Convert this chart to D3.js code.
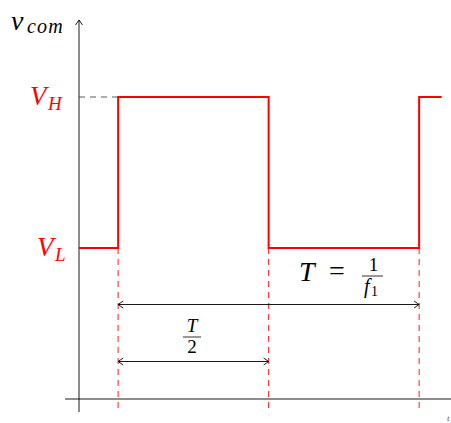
<!DOCTYPE html>
<html>
<head>
<meta charset="utf-8">
<script src="https://cdn.jsdelivr.net/npm/d3@7"></script>
<style>
  body { margin: 0; background: #fff; }
  text { font-family: "Liberation Serif", serif; }
</style>
</head>
<body>
<div id="wrap"></div>
<script>
// Square-wave common-mode voltage: levels and switching instants
const levels = { low: 1, high: 2 };            // V_L, V_H
const edgeTimes = [0.26, 1.26, 2.26];          // rise, fall, rise
const tStart = 0, tEnd = 2.41;
const waveT = [tStart, 0.26, 0.26, 1.26, 1.26, 2.26, 2.26, tEnd];
const waveV = [1, 1, 2, 2, 1, 1, 2, 2];

const svg = d3.select("#wrap").append("svg").attr("width", 451).attr("height", 423);
const x = d3.scaleLinear().domain([0, 1]).range([79, 229.5]);
const y = d3.scaleLinear().domain([0, 1]).range([399, 248]);

const red = "#ff0000";

// Axes (arrowed y axis, plain x axis)
svg.append("line").attr("x1", x(-0.093)).attr("x2", x(2.55))
  .attr("y1", y(0)).attr("y2", y(0)).attr("stroke", "#000").attr("stroke-width", 0.9);
svg.append("line").attr("x1", x(0)).attr("x2", x(0))
  .attr("y1", y(-0.086)).attr("y2", y(2.51)).attr("stroke", "#000").attr("stroke-width", 0.9);

function arrowHead(px, py, dir) {
  // open chevron tip; dir: 'up','left','right'
  let d;
  if (dir === "up") d = `M${px - 3.5},${py + 5} Q${px - 1},${py + 1.5} ${px},${py} Q${px + 1},${py + 1.5} ${px + 3.5},${py + 5}`;
  if (dir === "right") d = `M${px - 5},${py - 3.5} Q${px - 1.5},${py - 1} ${px},${py} Q${px - 1.5},${py + 1} ${px - 5},${py + 3.5}`;
  if (dir === "left") d = `M${px + 5},${py - 3.5} Q${px + 1.5},${py - 1} ${px},${py} Q${px + 1.5},${py + 1} ${px + 5},${py + 3.5}`;
  svg.append("path").attr("d", d).attr("fill", "none").attr("stroke", "#000").attr("stroke-width", 0.9);
}
arrowHead(x(0), y(2.51), "up");

function txt(px, py, size, italic, s) {
  return svg.append("text").attr("x", px).attr("y", py)
    .attr("font-family", "Liberation Serif")
    .attr("font-size", size)
    .attr("font-style", italic ? "italic" : "normal")
    .text(s);
}

// Axis label: v with subscript "com"
txt(11, 30, 28, true, "v");
txt(27, 33, 20, true, "com").attr("letter-spacing", 1.2);
txt(447, 421, 9, true, "t").attr("fill", "#555");

// Dashed reference line at V_H
svg.append("line").attr("x1", x(0)).attr("x2", x(edgeTimes[0]))
  .attr("y1", y(levels.high)).attr("y2", y(levels.high))
  .attr("stroke", "#333").attr("stroke-width", 0.8).attr("stroke-dasharray", "6,5");

// Dashed red verticals at switching instants
edgeTimes.forEach(t => {
  svg.append("line").attr("x1", x(t)).attr("x2", x(t))
    .attr("y1", y(levels.low)).attr("y2", y(-0.086))
    .attr("stroke", red).attr("stroke-width", 0.9).attr("stroke-dasharray", "6,5");
});

// Waveform
const pts = waveT.map((t, i) => [x(t), y(waveV[i])]);
svg.append("path").attr("d", d3.line()(pts))
  .attr("fill", "none").attr("stroke", red).attr("stroke-width", 2);

// Level labels
[[levels.low, "L", 37], [levels.high, "H", 30]].forEach(([v, sub, lx]) => {
  txt(lx, y(v) + 8, 27, true, "V").attr("fill", red);
  txt(lx + 18, y(v) + 13, 19, true, sub).attr("fill", red);
});

// Dimension arrows: period T and half period T/2
function dimArrow(t0, t1, yy) {
  svg.append("line").attr("x1", x(t0)).attr("x2", x(t1)).attr("y1", yy).attr("y2", yy)
    .attr("stroke", "#000").attr("stroke-width", 0.9);
  arrowHead(x(t0), yy, "left");
  arrowHead(x(t1), yy, "right");
}
dimArrow(edgeTimes[0], edgeTimes[2], 304.5);
dimArrow(edgeTimes[0], edgeTimes[1], 361.5);

// Label T = 1/f1
txt(299, 281, 28, true, "T");
txt(329, 280, 28, false, "=");
txt(373.5, 271, 19, false, "1").attr("text-anchor", "middle");
svg.append("line").attr("x1", 362).attr("x2", 383).attr("y1", 276).attr("y2", 276)
  .attr("stroke", "#000").attr("stroke-width", 0.8);
txt(364, 293, 20, true, "f");
txt(371, 296, 14, false, "1");

// Label T/2
txt(192, 332, 19, true, "T").attr("text-anchor", "middle");
svg.append("line").attr("x1", 183).attr("x2", 201).attr("y1", 337).attr("y2", 337)
  .attr("stroke", "#000").attr("stroke-width", 0.8);
txt(192, 353, 19, false, "2").attr("text-anchor", "middle");
</script>
</body>
</html>
